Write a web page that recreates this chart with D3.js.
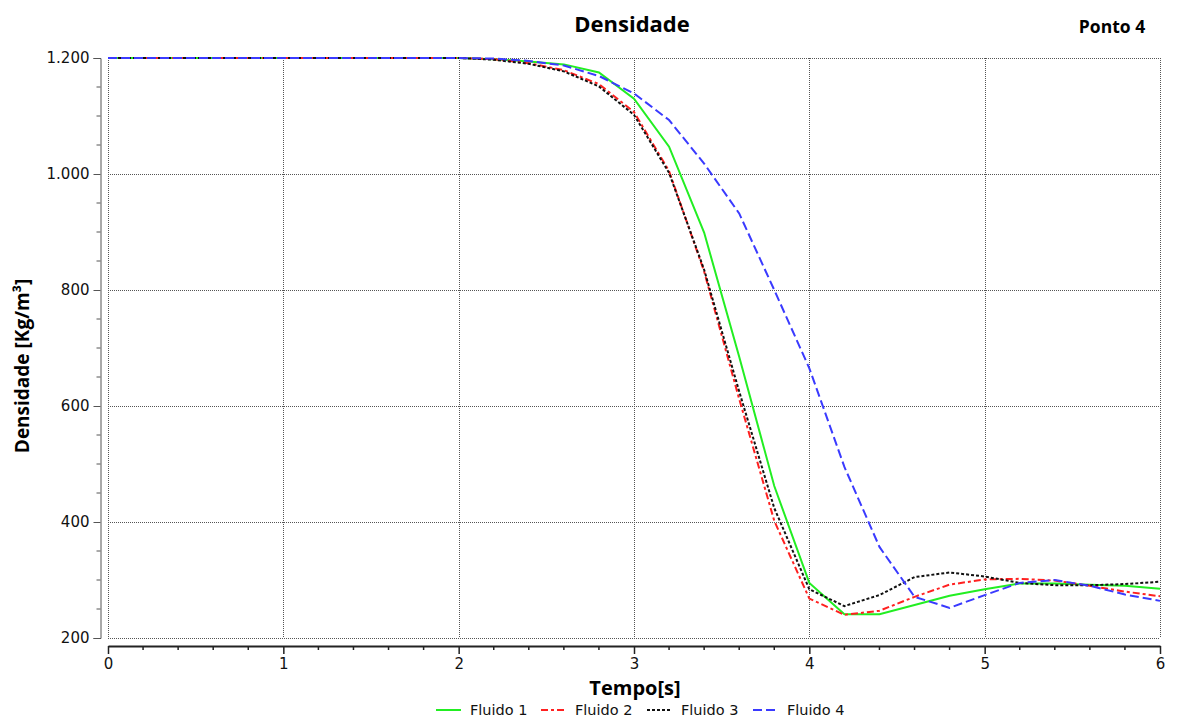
<!DOCTYPE html>
<html><head><meta charset="utf-8">
<script src="https://cdn.jsdelivr.net/npm/d3@7"></script>
<style>body{margin:0;background:#fff}svg{display:block}</style>
</head><body><svg id="c" width="1178" height="718"></svg>
<script>
const time = [0,0.2,0.4,0.6,0.8,1.0,1.2,1.4,1.6,1.8,2.0,2.2,2.4,2.6,2.8,3.0,3.2,3.4,3.6,3.8,4.0,4.2,4.4,4.6,4.8,5.0,5.2,5.4,5.6,5.8,6.0];
const fluido1 = [1200,1200,1200,1200,1200,1200,1200,1200,1200,1200,1200,1198,1194,1189,1175,1130,1047,899,685,462,295,241,241,257,273,284,294,294,292,290,285];
const fluido2 = [1200,1200,1200,1200,1200,1200,1200,1200,1200,1200,1200,1198,1191,1179,1155,1107,1005,832,612,402,268,240,247,271,292,301,302,299,290,280,272];
const fluido3 = [1200,1200,1200,1200,1200,1200,1200,1200,1200,1200,1200,1197,1190,1177,1151,1102,1002,835,625,424,284,255,274,305,313,306,295,291,291,293,297];
const fluido4 = [1200,1200,1200,1200,1200,1200,1200,1200,1200,1200,1200,1199,1195,1187,1169,1139,1093,1018,932,800,665,495,357,271,252,274,295,300,290,275,264];
const seriesNames = ["Fluido 1","Fluido 2","Fluido 3","Fluido 4"];
const yTicks = [200,400,600,800,1000,1200];
const xTicks = [0,1,2,3,4,5,6];

const series = [
  {name: seriesNames[0], values: fluido1, color: "#22ee22", dash: null},
  {name: seriesNames[1], values: fluido2, color: "#ff2020", dash: "7,3,3,3"},
  {name: seriesNames[2], values: fluido3, color: "#111111", dash: "3,2"},
  {name: seriesNames[3], values: fluido4, color: "#3a3aff", dash: "9,4"}
];

const svg = d3.select("#c");
const x = d3.scaleLinear([0,6],[108,1160]);
const y = d3.scaleLinear([200,1200],[638,58]);
const loc = d3.formatLocale({decimal:",", thousands:".", grouping:[3], currency:["",""]});
const fmt = loc.format(",d");

// grid
const grid = svg.append("g").attr("stroke","#555").attr("stroke-width",1).attr("stroke-dasharray","1,1");
grid.selectAll("line.h").data(yTicks).join("line")
  .attr("x1", x(0)).attr("x2", x(6)).attr("y1", d=>Math.round(y(d))+0.5).attr("y2", d=>Math.round(y(d))+0.5);
grid.selectAll("line.v").data(xTicks).join("line")
  .attr("y1", y(1200)).attr("y2", y(200)).attr("x1", d=>Math.round(x(d))+0.5).attr("x2", d=>Math.round(x(d))+0.5);

// y axis
const yAxisG = svg.append("g").attr("transform","translate(100.5,0)")
  .call(d3.axisLeft(y).tickValues(yTicks).tickSize(7).tickPadding(4).tickFormat(fmt));
yAxisG.select(".domain").attr("stroke","#555");
yAxisG.selectAll(".tick line").attr("stroke","#555");
yAxisG.selectAll("text").attr("font-family","DejaVu Sans").attr("font-size",15).attr("fill","#111");
const yMinor = d3.range(250,1200,50).filter(v=>v%200!==0);
yAxisG.selectAll("line.minor").data(yMinor).join("line").attr("class","minor")
  .attr("x1",0).attr("x2",-4).attr("y1",d=>y(d)).attr("y2",d=>y(d)).attr("stroke","#555");

// x axis
const xAxisG = svg.append("g").attr("transform","translate(0,646)")
  .call(d3.axisBottom(x).tickValues(xTicks).tickSize(8).tickSizeOuter(0).tickPadding(4).tickFormat(d3.format("d")));
xAxisG.select(".domain").attr("stroke","#222").attr("stroke-width",2);
xAxisG.selectAll(".tick line").attr("stroke","#222").attr("stroke-width",1.5);
xAxisG.selectAll("text").attr("font-family","DejaVu Sans").attr("font-size",15).attr("fill","#111");
const xMinor = d3.range(0.2,6,0.2).filter(v=>Math.abs(v-Math.round(v))>0.01);
xAxisG.selectAll("line.minor").data(xMinor).join("line").attr("class","minor")
  .attr("y1",0).attr("y2",4).attr("x1",d=>x(d)).attr("x2",d=>x(d)).attr("stroke","#222").attr("stroke-width",1.5);

// lines
const line = d3.line().x((d,i)=>x(time[i])).y(d=>y(d));
svg.append("g").selectAll("path").data(series).join("path")
  .attr("d", d=>line(d.values)).attr("fill","none")
  .attr("stroke", d=>d.color).attr("stroke-width",2)
  .attr("stroke-dasharray", d=>d.dash);

// titles
svg.append("text").attr("x",632).attr("y",32).attr("text-anchor","middle")
  .attr("font-family","Open Sans").attr("font-weight",700).attr("font-size",22).text("Densidade");
svg.append("text").attr("x",1112).attr("y",33).attr("text-anchor","middle")
  .attr("font-family","Open Sans").attr("font-weight",700).attr("font-size",17.5).text("Ponto 4");
svg.append("text").attr("transform","translate(29,366) rotate(-90)").attr("text-anchor","middle")
  .attr("font-family","Open Sans").attr("font-weight",700).attr("font-size",19).text("Densidade [Kg/m³]");
svg.append("text").attr("x",635).attr("y",695).attr("text-anchor","middle")
  .attr("font-family","Open Sans").attr("font-weight",700).attr("font-size",20).text("Tempo[s]");

// legend
const legX = [436,541,647,753];
const leg = svg.append("g").selectAll("g").data(series).join("g")
  .attr("transform",(d,i)=>`translate(${legX[i]},710)`);
leg.append("line").attr("x1",0).attr("x2",25).attr("y1",0).attr("y2",0)
  .attr("stroke",d=>d.color).attr("stroke-width",2).attr("stroke-dasharray",d=>d.dash);
leg.append("text").attr("x",34).attr("y",5).attr("font-family","DejaVu Sans").attr("font-size",14.5)
  .attr("fill","#111").text(d=>d.name);
</script></body></html>
